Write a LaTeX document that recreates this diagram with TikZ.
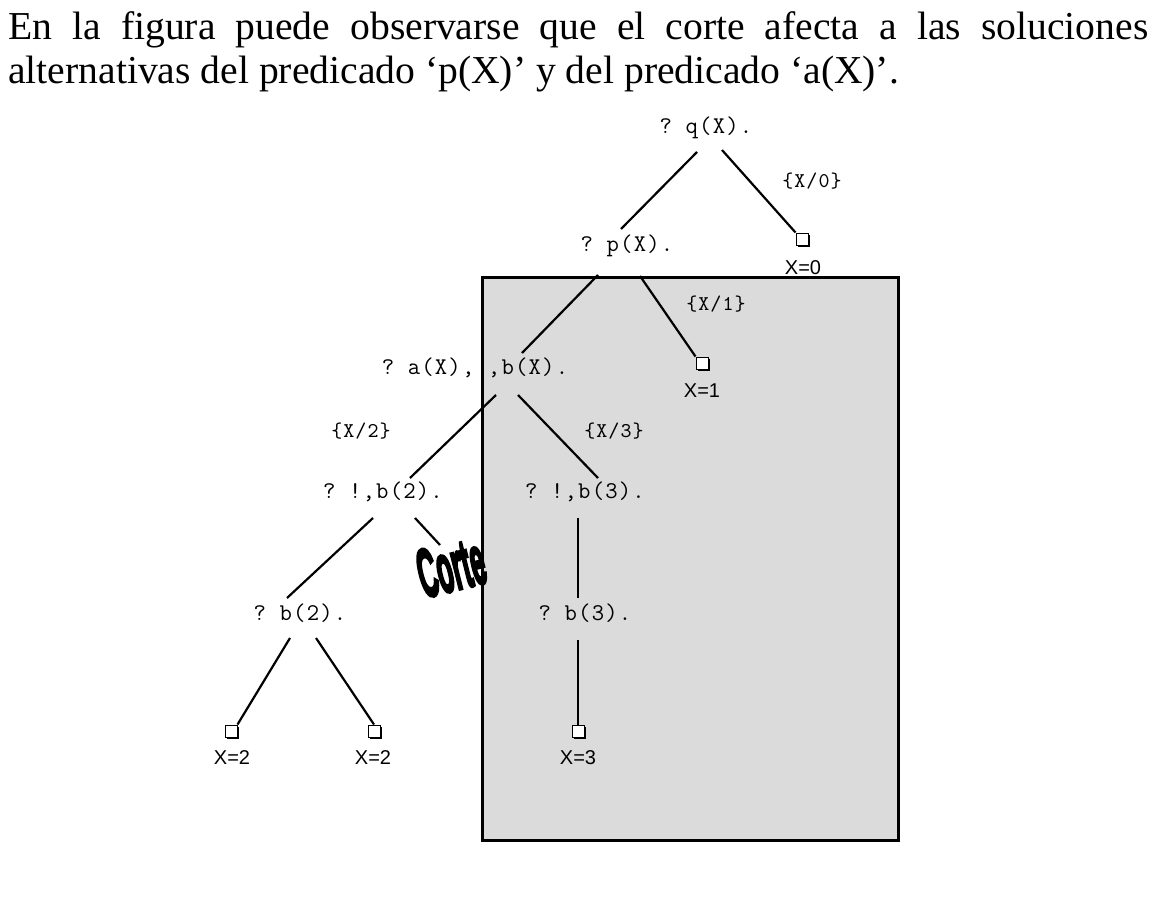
\documentclass[tikz,border=0pt]{standalone}
\usepackage{fontspec}
\setmainfont{Liberation Serif}
\setsansfont{Liberation Sans}
\setmonofont[LetterSpace=5]{Latin Modern Mono}
\newfontfamily\cortefont[FakeBold=5]{Liberation Sans}
\usetikzlibrary{calc,shadows}

\tikzset{
  goal/.style={font=\ttfamily\fontsize{12}{14}\selectfont, inner sep=0pt},
  subst/.style={font=\ttfamily\fontsize{10.5}{12}\selectfont, inner sep=0pt},
  answer/.style={font=\sffamily\fontsize{10}{12}\selectfont, inner sep=0pt},
  leaf/.style={draw, fill=white, minimum size=6pt, inner sep=0pt, line width=0.5pt,
    general shadow={fill=black, shadow xshift=1.2pt, shadow yshift=-1.2pt}},
  branch/.style={line width=1.1pt},
  corte/.style={font=\cortefont\bfseries\fontsize{19}{19}\selectfont, inner sep=0pt},
  prose/.style={anchor=base west, inner sep=0pt, font=\fontsize{19.8}{22}\selectfont},
}

\begin{document}
\begin{tikzpicture}[x=0.5pt, y=-0.5pt]
            \useasboundingbox (0,0) rectangle (1156,904);
            % zona afectada por el corte
            \draw[fill=black!14, line width=1.5pt] (482,277) rectangle (898,840);
            % texto
            \node[prose] (line1) at (8,40)
              {\makebox[570pt][s]{En la figura puede observarse que el corte afecta a las soluciones}};
            \node[prose] (line2) at (8,84)
              {alternativas del predicado ‘p(X)’ y del predicado ‘a(X)’.};
            % arbol
            \node[goal] (q) at (706,128) {? q(X).};
            \node[goal] (p) at (627,246) {? p(X).};
            \node[leaf] (s0) at (802,239) {};
            \node[answer] (x0) at (803,268) {X=0};
            \node[subst] (t0) at (812,181) {\{X/0\}};
            \node[goal] (ab) at (475,368) {? a(X), ,b(X).};
            \node[leaf] (s1) at (702,363) {};
            \node[answer] (x1) at (702,391) {X=1};
            \node[subst] (t1) at (716,304) {\{X/1\}};
            \node[goal] (b2) at (383,492) {? !,b(2).};
            \node[goal] (b3) at (585,492) {? !,b(3).};
            \node[subst] (t2) at (361,431) {\{X/2\}};
            \node[subst] (t3) at (614,431) {\{X/3\}};
            \node[goal] (bb2) at (300,613) {? b(2).};
            \node[goal] (bb3) at (585,613) {? b(3).};
            \node[leaf] (s2) at (231,731) {};
            \node[leaf] (s3) at (374,731) {};
            \node[leaf] (s4) at (578,731) {};
            \node[answer] (x2) at (232,758) {X=2};
            \node[answer] (x3) at (373,758) {X=2};
            \node[answer] (x4) at (578,758) {X=3};
            \node[corte, rotate=14] (cut) at (451,567) {\scalebox{0.68}[1.8]{Corte}};
            % ramas
            \draw[branch] ($(q)+(-9,24)$) -- ($(p)+(-6,-17)$);
            \draw[branch] ($(q)+(16,22)$) -- (s0.north west);
            \draw[branch] ($(p)+(-29,29)$) -- ($(ab)+(47,-15)$);
            \draw[branch] ($(p)+(13,30)$) -- (s1.north west);
            \draw[branch] ($(ab)+(21,27)$) -- ($(b2)+(27,-14)$);
            \draw[branch] ($(ab)+(43,27)$) -- ($(b3)+(13,-14)$);
            \draw[branch] ($(b2)+(-10,26)$) -- ($(bb2)+(-13,-15)$);
            \draw[branch] ($(b2)+(32,26)$) -- ($(cut)+(-11,-22)$);
            \draw[branch] ($(b3)+(-7,26)$) -- ($(bb3)+(-7,-15)$);
            \draw[branch] ($(bb2)+(-10,25)$) -- (s2.north east);
            \draw[branch] ($(bb2)+(16,25)$) -- (s3.north);
            \draw[branch] ($(bb3)+(-7,27)$) -- (s4.north);
          \end{tikzpicture}
\end{document}
